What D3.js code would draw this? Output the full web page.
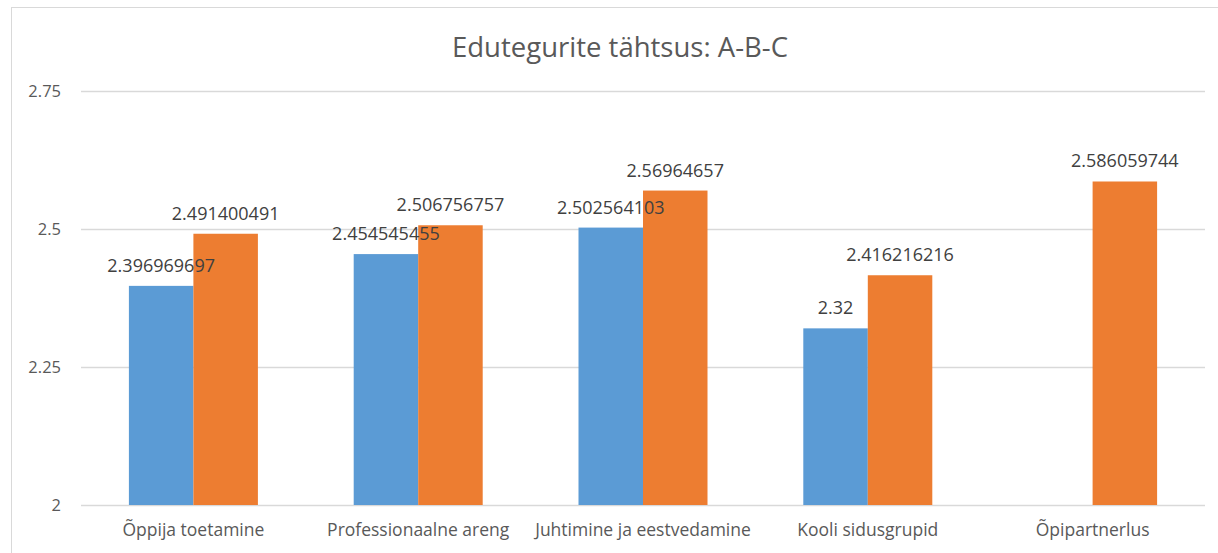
<!DOCTYPE html>
<html>
<head>
<meta charset="utf-8">
<script src="https://cdn.jsdelivr.net/npm/d3@7"></script>
<style>
  body { margin: 0; background: #fff; }
  svg { display: block; }
</style>
</head>
<body>
<div id="chart"></div>
<script>
var categories = ['Õppija toetamine', 'Professionaalne areng', 'Juhtimine ja eestvedamine', 'Kooli sidusgrupid', 'Õpipartnerlus'];
var seriesA = [2.396969697, 2.454545455, 2.502564103, 2.32, null];
var seriesB = [2.491400491, 2.506756757, 2.56964657, 2.416216216, 2.586059744];
var yTicks = [2, 2.25, 2.5, 2.75];
var chartTitle = 'Edutegurite tähtsus: A-B-C';

var width = 1218;
var height = 553;
var mainFont = '"Open Sans", "Noto Sans", sans-serif';
var textColor = '#595959';
var gridColor = '#d9d9d9';
var colors = ['#5b9bd5', '#ed7d31'];

window.onload = function() {
    var svg = d3.select('#chart').append('svg')
        .attr('width', width)
        .attr('height', height);

    // chart area border (cut off at right and bottom like the picture)
    svg.append('rect')
        .attr('x', 11.5)
        .attr('y', 7.5)
        .attr('width', 1240)
        .attr('height', 600)
        .attr('fill', '#fff')
        .attr('stroke', gridColor);

    var x = d3.scaleBand()
        .domain(categories)
        .range([81, 1205]);

    var y = d3.scaleLinear()
        .domain([2, 2.75])
        .range([505, 91]);

    var barW = 64.5;

    // gridlines
    svg.append('g')
        .selectAll('line')
        .data(yTicks)
        .join('line')
        .attr('x1', 81)
        .attr('x2', 1205)
        .attr('y1', function(d) { return Math.round(y(d)) + 0.5; })
        .attr('y2', function(d) { return Math.round(y(d)) + 0.5; })
        .attr('stroke', gridColor)
        .attr('stroke-width', 1.3);

    // y axis labels
    var yAxis = d3.axisLeft(y).tickValues(yTicks).tickSize(0).tickPadding(20)
        .tickFormat(function(d) { return String(d); });
    var yg = svg.append('g')
        .attr('transform', 'translate(81,0)')
        .call(yAxis);
    yg.select('.domain').remove();
    yg.selectAll('text')
        .attr('fill', textColor)
        .style('font-family', mainFont)
        .style('font-size', '16.5px');

    // x axis labels
    var xAxis = d3.axisBottom(x).tickSize(0).tickPadding(19);
    var xg = svg.append('g')
        .attr('transform', 'translate(0,505)')
        .call(xAxis);
    xg.select('.domain').remove();
    xg.selectAll('text')
        .attr('fill', textColor)
        .style('font-family', mainFont)
        .style('font-size', '17.5px');

    var series = [seriesA, seriesB];
    var barLayer = svg.append('g');
    var labelLayer = svg.append('g');

    series.forEach(function(values, s) {
        var rows = categories.map(function(c, i) { return { cat: c, v: values[i] }; })
            .filter(function(d) { return d.v != null; });

        function barX(d) {
            return x(d.cat) + x.bandwidth() / 2 - barW + s * barW;
        }

        barLayer.append('g')
            .selectAll('rect')
            .data(rows)
            .join('rect')
            .attr('x', barX)
            .attr('y', function(d) { return y(d.v); })
            .attr('width', barW)
            .attr('height', function(d) { return y(2) - y(d.v); })
            .attr('fill', colors[s]);

        // data labels go on top of all bars
        labelLayer.append('g')
            .selectAll('text')
            .data(rows)
            .join('text')
            .attr('x', function(d) { return barX(d) + barW / 2; })
            .attr('y', function(d) { return y(d.v) - 14; })
            .attr('text-anchor', 'middle')
            .attr('fill', '#404040')
            .style('font-family', mainFont)
            .style('font-size', '18px')
            .text(function(d) { return String(d.v); });
    });

    // title
    svg.append('text')
        .attr('x', 620)
        .attr('y', 57)
        .attr('text-anchor', 'middle')
        .attr('fill', textColor)
        .style('font-family', mainFont)
        .style('font-size', '27.5px')
        .text(chartTitle);
};
</script>
</body>
</html>
